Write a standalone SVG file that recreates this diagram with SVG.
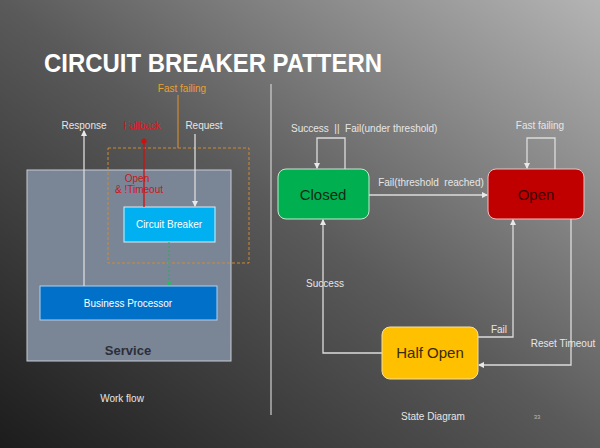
<svg xmlns="http://www.w3.org/2000/svg" width="600" height="448" viewBox="0 0 600 448">
<defs>
<linearGradient id="bg" x1="0" y1="1" x2="1" y2="0">
<stop offset="0" stop-color="#1c1c1c"/>
<stop offset="0.5" stop-color="#5a5a5a"/>
<stop offset="1" stop-color="#b4b4b4"/>
</linearGradient>
<marker id="aw" viewBox="0 0 6 6" refX="5" refY="3" markerWidth="5" markerHeight="5" orient="auto"><path d="M0,0 L6,3 L0,6 z" fill="#e8e8e8"/></marker>
<marker id="ar" viewBox="0 0 6 6" refX="3" refY="3" markerWidth="4" markerHeight="4" orient="auto"><circle cx="3" cy="3" r="3" fill="#d01010"/></marker>
<marker id="ag" viewBox="0 0 6 6" refX="3" refY="3" markerWidth="4" markerHeight="4" orient="auto"><circle cx="3" cy="3" r="3" fill="#20c060"/></marker>
<style>
text{font-family:"Liberation Sans",Arial,sans-serif;}
.lbl{font-size:10px;fill:#e6e6e6;}
.ln{fill:none;stroke:#dcdcdc;stroke-width:1.3;}
.st{font-size:15px;text-anchor:middle;}
</style>
</defs>
<rect width="600" height="448" fill="url(#bg)"/>
<text x="44" y="72" font-family="'Open Sans',sans-serif" font-weight="600" font-size="26" fill="#ffffff" textLength="338" lengthAdjust="spacingAndGlyphs">CIRCUIT BREAKER PATTERN</text>
<line x1="271" y1="84" x2="271" y2="415" stroke="#d0d0d0" stroke-width="1.2"/>

<g id="service">
<rect x="27" y="170" width="204" height="191" fill="#7a8596" stroke="#c8ccd4" stroke-width="1"/>
<text x="128" y="355" text-anchor="middle" font-size="13" font-weight="bold" fill="#2a2f3a">Service</text>
</g>
<g id="fastfailing-zone">
<rect x="108" y="148" width="141" height="115" fill="none" stroke="#d08a30" stroke-width="1" stroke-dasharray="3,2"/>
<text x="182" y="92" text-anchor="middle" font-size="10" fill="#e8a030">Fast failing</text>
</g>
<g id="circuit-breaker">
<rect x="124" y="207" width="91" height="35" fill="#00b0f0" stroke="#d8eef8" stroke-width="1"/>
<text x="169" y="228" text-anchor="middle" font-size="10" fill="#ffffff">Circuit Breaker</text>
</g>
<g id="business-processor">
<rect x="40" y="286" width="177" height="34" fill="#0070c8" stroke="#b8d0ea" stroke-width="1"/>
<text x="128" y="307" text-anchor="middle" font-size="10" fill="#ffffff">Business Processor</text>
</g>
<g id="wf-labels">
<text x="84" y="129" text-anchor="middle" class="lbl">Response</text>
<text x="142" y="129" text-anchor="middle" font-size="10" fill="#e01818">Fallback</text>
<text x="204" y="129" text-anchor="middle" class="lbl">Request</text>
<text x="137" y="182" text-anchor="middle" font-size="10" fill="#c81818">Open</text>
<text x="139" y="193" text-anchor="middle" font-size="10" fill="#c81818">&amp; !Timeout</text>
<text x="122" y="402" text-anchor="middle" class="lbl">Work flow</text>
</g>

<g id="states">
<g id="closed">
<rect x="278" y="169" width="91" height="50" rx="8" fill="#00b050" stroke="#c8e8d0" stroke-width="1"/>
<text x="323" y="200" class="st" fill="#0f2a14">Closed</text>
</g>
<g id="open">
<rect x="488" y="169" width="96" height="50" rx="8" fill="#c00000" stroke="#f0c0c0" stroke-width="1"/>
<text x="536" y="200" class="st" fill="#3a0000">Open</text>
</g>
<g id="half-open">
<rect x="382" y="327" width="96" height="52" rx="8" fill="#ffc000" stroke="#f8e0a0" stroke-width="1"/>
<text x="430" y="358" class="st" fill="#3a2a00">Half Open</text>
</g>
</g>

<g id="connectors">
<polyline class="ln" points="84,286 84,131" marker-end="url(#aw)"/>
<polyline points="144,207 144,141" fill="none" stroke="#d01010" stroke-width="1.3" marker-end="url(#ar)"/>
<polyline class="ln" points="195,134 195,206" marker-end="url(#aw)"/>
<polyline points="178,95 178,148" fill="none" stroke="#d08a30" stroke-width="1.2"/>
<polyline points="169,242 169,283" fill="none" stroke="#20b060" stroke-width="1" stroke-dasharray="2,2" marker-end="url(#ag)"/>

<polyline class="ln" points="345,169 345,138 317,138 317,168" marker-end="url(#aw)"/>
<polyline class="ln" points="555,169 555,138 527,138 527,168" marker-end="url(#aw)"/>
<polyline class="ln" points="369,195 487,195" marker-end="url(#aw)"/>
<polyline class="ln" points="382,353 323,353 323,220" marker-end="url(#aw)"/>
<polyline class="ln" points="478,337 513,337 513,220" marker-end="url(#aw)"/>
<polyline class="ln" points="571,219 571,365 479,365" marker-end="url(#aw)"/>
</g>
<g id="sd-labels">
<text x="291" y="132" class="lbl" xml:space="preserve">Success  ||  Fail(under threshold)</text>
<text x="540" y="129" text-anchor="middle" class="lbl">Fast failing</text>
<text x="431" y="186" text-anchor="middle" class="lbl" xml:space="preserve">Fail(threshold  reached)</text>
<text x="325" y="287" text-anchor="middle" class="lbl">Success</text>
<text x="499" y="333" text-anchor="middle" class="lbl">Fail</text>
<text x="563" y="347" text-anchor="middle" class="lbl">Reset Timeout</text>
<text x="433" y="420" text-anchor="middle" class="lbl">State Diagram</text>
<text x="537" y="419" text-anchor="middle" font-size="6" fill="#bbbbbb">33</text>
</g>
</svg>
